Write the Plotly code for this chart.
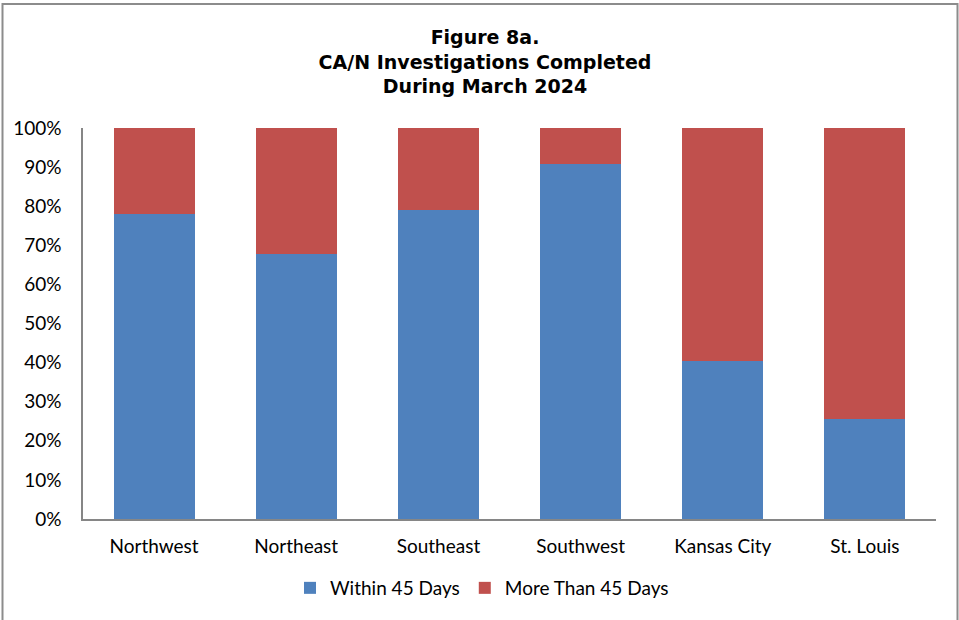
import plotly.graph_objects as go

categories = ["Northwest", "Northeast", "Southeast", "Southwest", "Kansas City", "St. Louis"]
within_45 = [78.0, 67.8, 79.0, 90.8, 40.4, 25.6]
more_than_45 = [round(100 - v, 1) for v in within_45]
y_ticks = [0, 10, 20, 30, 40, 50, 60, 70, 80, 90, 100]
y_tick_labels = [f"{v}%" for v in y_ticks]

W, H = 959, 620
L, R, T, B = 83, 23, 128, 101
pw, ph = W - L - R, H - T - B

fig = go.Figure()
fig.add_trace(go.Bar(x=categories, y=within_45, name="Within 45 Days",
                     marker=dict(color="#4F81BD", line=dict(width=0))))
fig.add_trace(go.Bar(x=categories, y=more_than_45, name="More Than 45 Days",
                     marker=dict(color="#C0504D", line=dict(width=0))))

font_body = "Lato, 'Open Sans', sans-serif"

def px_x(x):
    return (x - L) / pw

def px_y(y):
    return (H - B - y) / ph

fig.update_layout(
    barmode="stack",
    bargap=0.43,
    width=W, height=H,
    margin=dict(l=L, r=R, t=T, b=B, autoexpand=False),
    paper_bgcolor="white", plot_bgcolor="white",
    title=dict(
        text="Figure 8a.<br>CA/N Investigations Completed<br>During March 2024",
        x=(485) / W, xanchor="center", y=1 - 44 / H, yanchor="top",
        font=dict(family="'DejaVu Sans', sans-serif", size=19, color="black", weight="bold"),
    ),
    font=dict(family=font_body, size=19, color="black"),
    showlegend=True,
    legend=dict(orientation="h", x=px_x(482), xanchor="center", y=px_y(588), yanchor="middle",
                font=dict(family=font_body, size=19, color="black"), traceorder="normal",
                itemwidth=30, tracegroupgap=0),
    xaxis=dict(showline=True, linecolor="#868686", linewidth=1.5, ticks="", showgrid=False,
               tickfont=dict(size=19), ticklabelstandoff=9),
    yaxis=dict(range=[0, 100], tickvals=y_ticks, ticktext=y_tick_labels, showline=True,
               linecolor="#868686", linewidth=1.5, ticks="", showgrid=False, zeroline=False,
               tickfont=dict(size=19), ticklabelstandoff=16),
    shapes=[dict(type="rect", xref="paper", yref="paper",
                 x0=px_x(2.5), x1=px_x(957.5), y0=px_y(630), y1=px_y(4),
                 line=dict(color="#8c8c8c", width=2), fillcolor="rgba(0,0,0,0)", layer="below")],
)

fig.write_html("out.html", config={"displayModeBar": False},
               post_script="document.body.style.margin='0';document.body.style.overflow='hidden';")
